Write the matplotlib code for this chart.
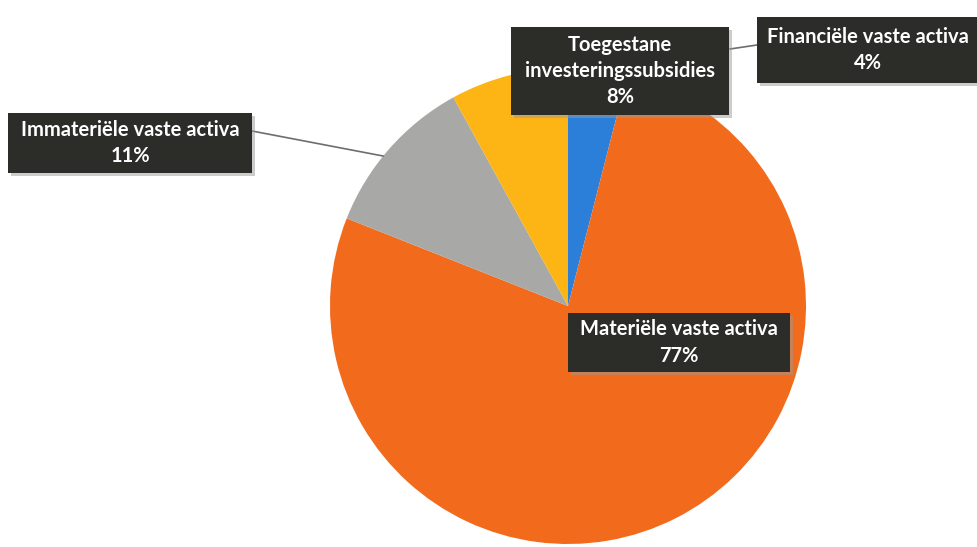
import matplotlib
matplotlib.use("Agg")
import matplotlib.pyplot as plt
from matplotlib.patches import Rectangle

W, H = 977, 547

# data (clockwise from top)
categories = ["Financiële vaste activa", "Materiële vaste activa",
              "Immateriële vaste activa", "Toegestane\ninvesteringssubsidies"]
shares = [4, 77, 11, 8]
colors = ["#2b7fd9", "#f26a1b", "#a8a8a6", "#fdb515"]

# label boxes in pixel coords: (left, top, right, bottom)
label_boxes = [(757, 17, 980, 83), (568, 313, 790, 372),
               (8, 113, 252, 173), (511, 27, 729, 115)]
leaders = [((757, 45), (730, 49)), None, ((252, 131), (383, 156)), None]


def py(y):
    return H - y


fig = plt.figure(figsize=(W / 100, H / 100), dpi=100)
ax = fig.add_axes([0, 0, 1, 1])

ax.pie(shares, colors=colors, startangle=90, counterclock=False,
       center=(568, py(306)), radius=238, frame=True,
       wedgeprops=dict(linewidth=0))
ax.set_xlim(0, W)
ax.set_ylim(0, H)
ax.set_aspect("equal")
ax.axis("off")

for cat, val, box, ld in zip(categories, shares, label_boxes, leaders):
    x0, y0, x1, y1 = box
    if ld is not None:
        (ax_, ay_), (bx_, by_) = ld
        ax.plot([ax_, bx_], [py(ay_), py(by_)], color="#6e6e6e", lw=1.2, zorder=3)
    # shadow
    ax.add_patch(Rectangle((x0 + 3, py(y1) - 3), x1 - x0, y1 - y0,
                           facecolor="#9a9a9a", alpha=0.5, lw=0, zorder=4))
    ax.add_patch(Rectangle((x0, py(y1)), x1 - x0, y1 - y0,
                           facecolor="#2c2c29", lw=0, zorder=5))
    cx = (x0 + x1) / 2 if x1 <= W else (x0 + 979) / 2
    ax.text(cx, py((y0 + y1) / 2), f"{cat}\n{val}%", ha="center", va="center",
            multialignment="center", color="white", fontsize=14.5,
            fontweight="bold", family=["Lato", "DejaVu Sans"],
            linespacing=1.4, zorder=6)

fig.savefig("out.png", dpi=100, facecolor="white")
